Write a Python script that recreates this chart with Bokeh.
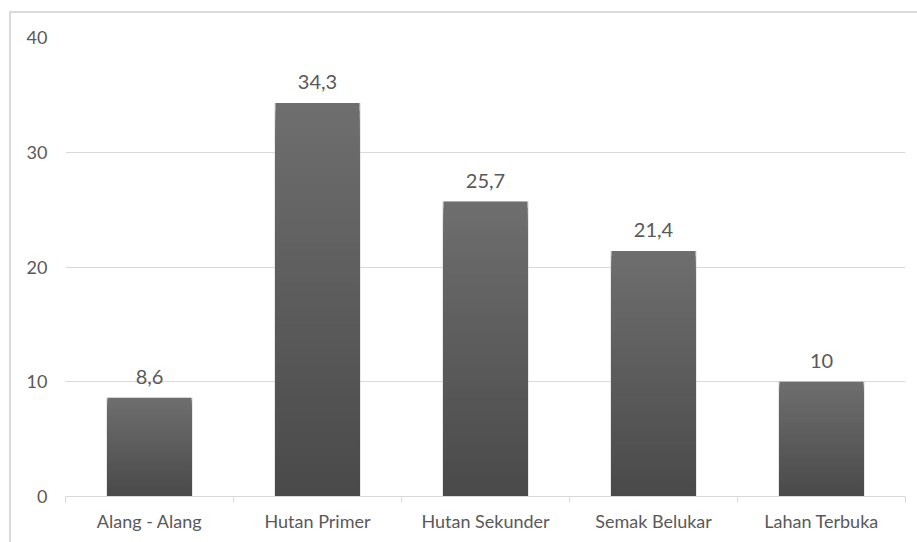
import numpy as np
from bokeh.plotting import figure
from bokeh.models import ColumnDataSource, FixedTicker, Range1d
from bokeh.core.properties import value
from bokeh.embed import file_html
from bokeh.resources import INLINE

categories = ["Alang - Alang", "Hutan Primer", "Hutan Sekunder", "Semak Belukar", "Lahan Terbuka"]
values = [8.6, 34.3, 25.7, 21.4, 10]
labels = ["8,6", "34,3", "25,7", "21,4", "10"]
y_ticks = [0, 10, 20, 30, 40]

FONT = "Lato"
TXT = "#595959"
GRID = "#d9d9d9"
BORDER = "#dadada"

p = figure(width=917, height=542, output_backend="svg", toolbar_location=None,
           x_range=Range1d(0, len(categories)), y_range=Range1d(0, 40),
           min_border_left=65, min_border_right=12, min_border_top=37, min_border_bottom=46)
p.styles = {
    "background": (f"linear-gradient({BORDER},{BORDER}) 9px 11px / 2px 100% no-repeat, "
                   f"linear-gradient({BORDER},{BORDER}) 9px 11px / 100% 2px no-repeat, white"),
}
p.outline_line_color = None
p.background_fill_color = "white"
p.border_fill_color = None

# gradient bars: overlapping slices computed from the data (light top, dark bottom)
N = 48
xs, tops, cols = [], [], []
dark = np.array([0x4a, 0x4a, 0x4a])
light = np.array([0x6f, 0x6f, 0x6f])
for k in range(N - 1, -1, -1):
    t = (k + 0.5) / N
    c = (dark + (light - dark) * t).astype(int)
    col = "#%02x%02x%02x" % tuple(c)
    for i, v in enumerate(values):
        xs.append(i + 0.5)
        tops.append(v * (k + 1) / N)
        cols.append(col)

centers = [i + 0.5 for i in range(len(categories))]
# soft shadow
p.vbar(x=centers, top=values, bottom=0, width=0.515, fill_color="#c4c4c4", fill_alpha=0.5, line_color=None)
src = ColumnDataSource(dict(x=xs, top=tops, color=cols))
p.vbar(x="x", top="top", bottom=0, width=0.5, fill_color="color", line_color=None, source=src)

p.text(x=centers, y=values, text=labels, text_align="center", text_baseline="alphabetic",
       y_offset=-21, text_font=value(FONT), text_font_size="20px", text_color=TXT)

# axes
p.xaxis.ticker = FixedTicker(ticks=centers, minor_ticks=list(range(len(categories) + 1)))
p.xaxis.major_label_overrides = {c: cat for c, cat in zip(centers, categories)}
p.xaxis.major_tick_line_color = None
p.xaxis.minor_tick_line_color = GRID
p.xaxis.minor_tick_out = 6
p.xaxis.minor_tick_in = 0
p.xaxis.axis_line_color = GRID
p.xaxis.major_label_text_font = FONT
p.xaxis.major_label_text_font_size = "18px"
p.xaxis.major_label_text_color = TXT
p.xaxis.major_label_standoff = 7

p.yaxis.ticker = FixedTicker(ticks=y_ticks)
p.yaxis.axis_line_color = None
p.yaxis.major_tick_line_color = None
p.yaxis.minor_tick_line_color = None
p.yaxis.major_label_text_font = FONT
p.yaxis.major_label_text_font_size = "18px"
p.yaxis.major_label_text_color = TXT
p.yaxis.major_label_standoff = 12

p.xgrid.grid_line_color = None
p.ygrid.grid_line_color = GRID
p.ygrid.ticker = FixedTicker(ticks=y_ticks)

open("out.html", "w").write(file_html(p, INLINE))
